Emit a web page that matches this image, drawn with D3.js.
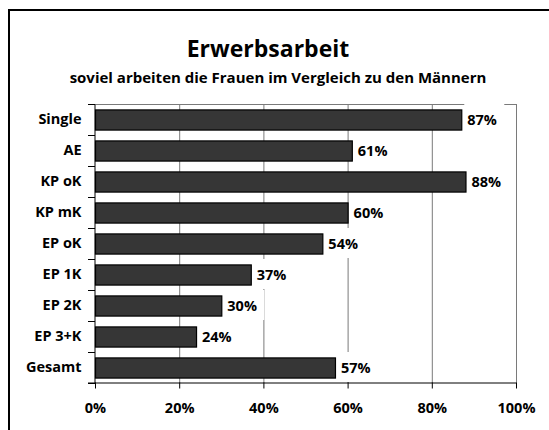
<!DOCTYPE html>
<html>
<head>
<meta charset="utf-8">
<script src="https://cdn.jsdelivr.net/npm/d3@7"></script>
<style>
  body { margin: 0; background: #fff; }
  svg text { font-family: "Open Sans", sans-serif; font-weight: bold; fill: #000; }
</style>
</head>
<body>
<div id="chart"></div>
<script>
// chart data
var categories = ["Single", "AE", "KP oK", "KP mK", "EP oK", "EP 1K", "EP 2K", "EP 3+K", "Gesamt"];
var values = [87, 61, 88, 60, 54, 37, 30, 24, 57];
var xTicks = [0, 20, 40, 60, 80, 100];

var width = 549, height = 430;
var margin = {top: 104, right: 33, bottom: 47, left: 95};
var fs = "14.5px";

var svg = d3.select("#chart").append("svg")
    .attr("width", width).attr("height", height);

// outer frame
svg.append("rect").attr("x", 9).attr("y", 10).attr("width", 560).attr("height", 440)
    .attr("fill", "none").attr("stroke", "#000").attr("stroke-width", 2);

svg.append("text").attr("x", 268).attr("y", 57).attr("text-anchor", "middle")
    .style("font-size", "23px").text("Erwerbsarbeit");
svg.append("text").attr("x", 278).attr("y", 83).attr("text-anchor", "middle")
    .style("font-size", "15px").text("soviel arbeiten die Frauen im Vergleich zu den Männern");

var x = d3.scaleLinear().domain([0, 100]).range([margin.left, width - margin.right]);
var y = d3.scaleBand().domain(categories).range([margin.top, height - margin.bottom]).paddingInner(0.35).paddingOuter(0.175);

var x0 = x(0), x1 = x(100), y0 = margin.top, y1 = height - margin.bottom;

// gridlines
svg.append("g").selectAll("line").data(xTicks.slice(1)).join("line")
    .attr("x1", d => x(d) + 0.5).attr("x2", d => x(d) + 0.5)
    .attr("y1", y0).attr("y2", y1)
    .attr("stroke", "#7a7a7a").attr("stroke-width", 1);
svg.append("line").attr("x1", x0).attr("x2", x1).attr("y1", y0 + 0.5).attr("y2", y0 + 0.5)
    .attr("stroke", "#7a7a7a");

// bars
svg.append("g").selectAll("rect").data(values).join("rect")
    .attr("x", x0 + 0.5)
    .attr("y", (d, i) => y(categories[i]) + 0.5)
    .attr("width", d => x(d) - x0)
    .attr("height", y.bandwidth())
    .attr("fill", "#363636")
    .attr("stroke", "#000").attr("stroke-width", 1.2);

// value labels with white background hiding the grid
var step = y.step();
var lab = svg.append("g").selectAll("g").data(values).join("g")
    .attr("transform", (d, i) => "translate(" + (x(d) + 3) + "," + (y(categories[i]) + y.bandwidth() / 2) + ")");
lab.append("rect").attr("x", 0).attr("y", -step / 2).attr("width", 40).attr("height", step - 1)
    .attr("fill", "#fff");
lab.append("text").attr("x", 3).attr("dy", "0.36em").style("font-size", fs)
    .text(d => d + "%");

// left axis
var yAxis = d3.axisLeft(y).tickSize(0).tickPadding(13);
var gy = svg.append("g").attr("transform", "translate(" + (x0 - 0.5) + ",0)").call(yAxis);
gy.select(".domain").attr("stroke", "#000");
gy.selectAll("text").style("font-size", fs).style("font-family", "Open Sans").style("font-weight", "bold");
var bounds = categories.map(c => y(c) - (step - y.bandwidth()) / 2).concat([y1]);
svg.append("g").selectAll("line").data(bounds).join("line")
    .attr("x1", x0 - 7).attr("x2", x0).attr("y1", d => Math.round(d) + 0.5).attr("y2", d => Math.round(d) + 0.5)
    .attr("stroke", "#000");

// bottom axis
var xAxis = d3.axisBottom(x).tickValues(xTicks).tickFormat(d => d + "%").tickSize(6).tickPadding(14);
var gx = svg.append("g").attr("transform", "translate(0," + (y1 - 0.5) + ")").call(xAxis);
gx.select(".domain").attr("stroke", "#000").attr("d", "M" + (x0 - 7) + ",0.5H" + x1);
gx.selectAll("line").attr("stroke", "#000");
gx.selectAll("text").style("font-size", fs).style("font-family", "Open Sans").style("font-weight", "bold");
</script>
</body>
</html>
